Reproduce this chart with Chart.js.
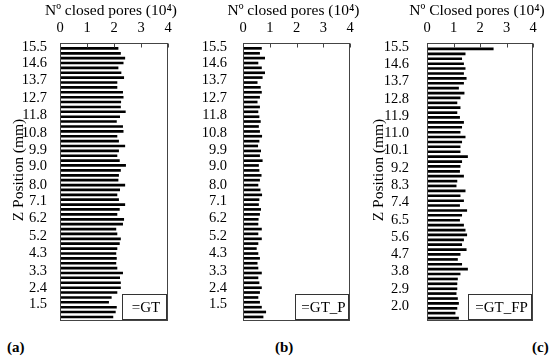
<!DOCTYPE html>
<html>
<head>
<meta charset="utf-8">
<script src="https://cdn.jsdelivr.net/npm/chart.js@4.4.1/dist/chart.umd.min.js"></script>
<style>
  html, body { margin: 0; padding: 0; background: #fff; }
  #wrap { position: relative; width: 550px; height: 358px; overflow: hidden;
          font-family: "Liberation Serif", "Times New Roman", serif; color: #000; }
  canvas { position: absolute; top: 0; }
  .tag { position: absolute; top: 339px; font-weight: bold; font-size: 15px; line-height: 17px; }
</style>
</head>
<body>
<div id="wrap">
  <canvas id="chart-gt" width="181" height="330" style="left:0px"></canvas>
  <canvas id="chart-gtp" width="180" height="330" style="left:183px"></canvas>
  <canvas id="chart-gtfp" width="180" height="330" style="left:366px"></canvas>
  <div class="tag" style="left:7px">(a)</div>
  <div class="tag" style="left:275px">(b)</div>
  <div class="tag" style="left:532px">(c)</div>
</div>
<script>
// Z position of every slice (mm) — panels (a) and (b)
var zGT = [15.43, 15.16, 14.90, 14.63, 14.37, 14.10, 13.84, 13.57, 13.31, 13.04,
           12.77, 12.51, 12.24, 11.98, 11.71, 11.45, 11.18, 10.91, 10.65, 10.38,
           10.12, 9.85, 9.59, 9.32, 9.06, 8.79, 8.52, 8.26, 7.99, 7.73,
           7.46, 7.20, 6.93, 6.67, 6.40, 6.13, 5.87, 5.60, 5.34, 5.07,
           4.81, 4.54, 4.27, 4.01, 3.74, 3.48, 3.21, 2.95, 2.68, 2.41,
           2.15, 1.88, 1.62, 1.35, 1.09, 0.82];
// Z position of every slice (mm) — panel (c)
var zFP = [15.40, 15.14, 14.89, 14.63, 14.38, 14.12, 13.87, 13.61, 13.36, 13.10,
           12.85, 12.59, 12.34, 12.08, 11.83, 11.57, 11.32, 11.06, 10.81, 10.55,
           10.30, 10.04, 9.79, 9.53, 9.28, 9.02, 8.77, 8.51, 8.26, 8.00,
           7.75, 7.49, 7.24, 6.98, 6.73, 6.47, 6.22, 5.96, 5.71, 5.45,
           5.20, 4.94, 4.69, 4.43, 4.18, 3.92, 3.67, 3.41, 3.16, 2.90,
           2.65, 2.39, 2.14, 1.88, 1.63, 1.37];

// closed pores per slice (x 10^4)
var poresGT = [2.15, 2.24, 2.40, 2.34, 2.15, 2.26, 2.36, 2.11, 2.11, 2.32, 2.34, 2.25, 2.24,
               2.42, 2.21, 2.09, 2.32, 2.34, 2.11, 2.17, 2.40, 2.17, 2.11, 2.20, 2.43, 2.24, 2.17,
               2.15, 2.40, 2.21, 2.11, 2.17, 2.40, 2.20, 2.11, 2.36, 2.32, 2.07, 2.11, 2.24, 2.20, 2.11,
               2.07, 2.09, 2.07, 2.11, 2.32, 2.21, 2.24, 2.24, 2.11, 1.90, 1.80, 2.09, 2.05, 1.96];
var poresGTP = [0.69, 0.62, 0.81, 0.56, 0.69, 0.81, 0.72, 0.53, 0.65, 0.69, 0.62, 0.53, 0.62, 0.56,
                0.60, 0.65, 0.58, 0.62, 0.70, 0.60, 0.55, 0.66, 0.62, 0.72, 0.58, 0.60, 0.68, 0.62,
                0.56, 0.64, 0.70, 0.60, 0.58, 0.66, 0.62, 0.57,
                0.56, 0.69, 0.56, 0.69, 0.56, 0.50, 0.56, 0.62, 0.53, 0.56, 0.69, 0.56, 0.60, 0.69,
                0.62, 0.56, 0.62, 0.69, 0.85, 0.75];
var poresGTFP = [2.50, 1.44, 1.31, 1.38, 1.44, 1.38, 1.48, 1.38, 1.19, 1.40, 1.25, 1.13, 1.25, 1.13,
                 1.23, 1.38, 1.31, 1.25, 1.44, 1.31, 1.25, 1.25, 1.53, 1.31, 1.25, 1.23, 1.38, 1.13,
                 1.10, 1.44, 1.25, 1.38, 1.23, 1.50, 1.31, 1.23, 1.38,
                 1.44, 1.50, 1.38, 1.31, 1.48, 1.25, 1.15, 1.31, 1.53, 1.25, 1.15, 1.13, 1.13,
                 1.10, 1.15, 1.19, 1.13, 1.06, 1.19];

// tick labels
var zTicksAB = [15.5, 14.6, 13.7, 12.7, 11.8, 10.8, 9.9, 9.0, 8.0, 7.1, 6.2, 5.2, 4.3, 3.3, 2.4, 1.5];
var zTicksC = [15.5, 14.6, 13.7, 12.8, 11.9, 11.0, 10.1, 9.2, 8.3, 7.4, 6.5, 5.6, 4.7, 3.8, 2.9, 2.0];
var poreTicks = [0, 1, 2, 3, 4];

var SERIF = '"Liberation Serif", "Times New Roman", serif';

// marco del área, marcas hacia dentro, leyenda y títulos de ejes
var framePlugin = {
  id: 'frame',
  afterDatasetsDraw: function (chart, args, opts) {
    var ctx = chart.ctx, a = chart.chartArea;
    var l = Math.round(a.left) + 0.5, t = Math.round(a.top) + 0.5;
    var r = Math.round(a.right) - 0.5, b = Math.round(a.bottom) - 0.5;
    ctx.save();
    ctx.strokeStyle = '#444';
    ctx.lineWidth = 1;
    ctx.strokeRect(l, t, r - l, b - t);

    var xs = chart.scales.x;
    xs.ticks.forEach(function (tk) {
      var px = Math.round(xs.getPixelForValue(tk.value)) + 0.5;
      ctx.beginPath();
      ctx.moveTo(px, t);
      ctx.lineTo(px, t + 4);
      ctx.stroke();
    });

    // leyenda
    var bw = opts.legendWidth, bh = 25;
    var bx = Math.round(a.right) - 2 - bw + 0.5, by = Math.round(a.bottom) - 2 - bh + 0.5;
    ctx.fillStyle = '#fff';
    ctx.fillRect(bx, by, bw, bh);
    ctx.strokeStyle = '#333';
    ctx.strokeRect(bx, by, bw, bh);
    ctx.fillStyle = '#000';
    ctx.font = '15px ' + SERIF;
    ctx.textAlign = 'center';
    ctx.textBaseline = 'middle';
    ctx.fillText(opts.legend, bx + bw / 2 + 1.5, by + bh / 2 + 1);

    // título del eje x (sin recorte de ancho)
    ctx.font = '15.5px ' + SERIF;
    ctx.fillText(opts.xTitle, (a.left + a.right) / 2 - 3, 11);

    if (opts.yTitle) {
      ctx.translate(opts.yTitleX, opts.yTitleY);
      ctx.rotate(-Math.PI / 2);
      ctx.fillText(opts.yTitle, 0, 0);
    }
    ctx.restore();
  }
};

function makePanel(id, p) {
  new Chart(document.getElementById(id), {
    type: 'bar',
    data: {
      datasets: [{
        data: p.values.map(function (v, i) { return { x: v, y: p.z[i] }; }),
        backgroundColor: '#000',
        barThickness: 2
      }]
    },
    options: {
      responsive: false,
      animation: false,
      indexAxis: 'y',
      layout: { padding: { top: 0, right: 13, bottom: 9, left: 0 } },
      plugins: {
        legend: { display: false },
        tooltip: { enabled: false },
        frame: {
          legend: p.legend,
          legendWidth: p.legendWidth,
          xTitle: p.xTitle,
          yTitle: p.yTitle,
          yTitleX: p.yTitleX,
          yTitleY: 170
        }
      },
      scales: {
        x: {
          type: 'linear',
          position: 'top',
          min: 0,
          max: 4,
          offset: false,
          afterBuildTicks: function (s) {
            s.ticks = poreTicks.map(function (v) { return { value: v }; });
          },
          ticks: { font: { family: SERIF, size: 14.5 }, color: '#000', padding: 0, autoSkip: false, maxRotation: 0 },
          // la distancia etiqueta-eje se hace con tickLength (las marcas no se dibujan)
          grid: { display: false, drawTicks: true, tickLength: 6 },
          border: { display: false },
          afterFit: function (s) { s.height = 43; }
        },
        y: {
          type: 'linear',
          min: p.yMin,
          max: p.yMax,
          offset: false,
          afterBuildTicks: function (s) {
            s.ticks = p.yTicks.map(function (v) { return { value: v }; });
          },
          ticks: {
            font: { family: SERIF, size: 14.5 },
            color: '#000',
            padding: 0,
            autoSkip: false,
            callback: function (v) { return Number(v).toFixed(1); }
          },
          grid: { display: false, drawTicks: true, tickLength: p.tickGap },
          border: { display: false },
          afterFit: function (s) { s.width = p.yWidth; }
        }
      }
    },
    plugins: [framePlugin]
  });
}

makePanel('chart-gt', {
  z: zGT, values: poresGT, yTicks: zTicksAB, yMin: 0.60, yMax: 15.72,
  xTitle: 'Nº closed pores (10⁴)', legend: '=GT', legendWidth: 44,
  yTitle: 'Z Position (mm)', yTitleX: 19, yWidth: 60, tickGap: 13
});
makePanel('chart-gtp', {
  z: zGT, values: poresGTP, yTicks: zTicksAB, yMin: 0.60, yMax: 15.72,
  xTitle: 'Nº closed pores (10⁴)', legend: '=GT_P', legendWidth: 53,
  yTitle: null, yWidth: 60, tickGap: 16
});
makePanel('chart-gtfp', {
  z: zFP, values: poresGTFP, yTicks: zTicksC, yMin: 1.22, yMax: 15.71,
  xTitle: 'Nº Closed pores (10⁴)', legend: '=GT_FP', legendWidth: 63,
  yTitle: 'Z Position (mm)', yTitleX: 13, yWidth: 61, tickGap: 18
});
</script>
</body>
</html>
